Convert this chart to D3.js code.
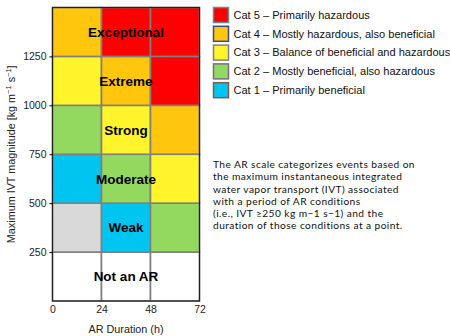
<!DOCTYPE html>
<html><head><meta charset="utf-8">
<script src="https://cdn.jsdelivr.net/npm/d3@7"></script>
<style>body{margin:0;background:#fff}svg{display:block}</style>
</head><body><svg id="c" width="450" height="336"></svg>
<script>
const xTicks = [0,24,48,72];
const yTicks = [250,500,750,1000,1250];
const ivtBands = [0,250,500,750,1000,1250];
const durationStarts = [0,24,48];
// category per IVT band (rows bottom->top), per duration column; 0 = not AR, -1 = grey
const row0 = [0,0,0];
const row250 = [-1,1,2];
const row500 = [1,2,3];
const row750 = [2,3,4];
const row1000 = [3,4,5];
const row1250 = [4,5,5];
const grid = [row0,row250,row500,row750,row1000,row1250];
const rankLabels = ["Not an AR","Weak","Moderate","Strong","Extreme","Exceptional"];
const catNames = ["Cat 5 \u2013 Primarily hazardous","Cat 4 \u2013 Mostly hazardous, also beneficial","Cat 3 \u2013 Balance of beneficial and hazardous","Cat 2 \u2013 Mostly beneficial, also hazardous","Cat 1 \u2013 Primarily beneficial"];
const catIds = [5,4,3,2,1];
const note = ["The AR scale categorizes events based on","the maximum instantaneous integrated","water vapor transport (IVT) associated","with a period of AR conditions","(i.e., IVT \u2265250 kg m\u22121 s\u22121) and the","duration of those conditions at a point."];

const fill = {"-1":"#d9d9d9",0:"#ffffff",1:"#00c5f0",2:"#94d95f",3:"#fff52a",4:"#ffc60e",5:"#ff0000"};
const swBorder = {5:"#5f8f8f",4:"#3c4a8a",3:"#7a7fa0",2:"#7a6a90",1:"#8a5a40"};
const FONT = "Liberation Sans, Arial, sans-serif";

const svg = d3.select("#c");
const x = d3.scaleLinear().domain([0,72]).range([52.5,199.5]);
const y = d3.scaleLinear().domain([0,1500]).range([301,7.5]);

const cells = [];
grid.forEach((row,i)=>row.forEach((c,j)=>cells.push({i,j,c})));
svg.append("g").selectAll("rect").data(cells).join("rect")
  .attr("x",d=>x(durationStarts[d.j])).attr("y",d=>y(ivtBands[d.i]+250))
  .attr("width",d=>x(durationStarts[d.j]+24)-x(durationStarts[d.j]))
  .attr("height",d=>y(ivtBands[d.i])-y(ivtBands[d.i]+250))
  .attr("fill",d=>fill[d.c]).attr("stroke","#7f7f7f").attr("stroke-width",1.6);

svg.append("rect").attr("x",x(0)).attr("y",y(1500)).attr("width",x(72)-x(0)).attr("height",y(0)-y(1500))
  .attr("fill","none").attr("stroke","#222").attr("stroke-width",1.2);

svg.append("g").selectAll("text").data(rankLabels).join("text")
  .attr("x",x(36)).attr("y",(d,i)=>y(ivtBands[i]+125)).attr("dy","0.36em")
  .attr("text-anchor","middle").attr("font-family",FONT)
  .attr("font-weight","bold").attr("font-size",13.5).attr("fill","#000").text(d=>d);

const ya = svg.append("g").attr("transform",`translate(${x(0)},0)`)
  .call(d3.axisLeft(y).tickValues(yTicks).tickFormat(d3.format("d")).tickSize(3).tickPadding(3));
ya.select(".domain").remove();
ya.selectAll("text").attr("font-family",FONT).attr("font-size",10.5).attr("fill","#222");
const xa = svg.append("g").attr("transform",`translate(0,${y(0)})`)
  .call(d3.axisBottom(x).tickValues(xTicks).tickSize(0).tickPadding(5));
xa.select(".domain").remove();
xa.selectAll("text").attr("font-family",FONT).attr("font-size",10.5).attr("fill","#222");

svg.append("text").attr("x",x(36)).attr("y",333).attr("text-anchor","middle")
  .attr("font-family",FONT).attr("font-size",10.8).attr("fill","#222").text("AR Duration (h)");

const yt = svg.append("text").attr("transform",`translate(15,${y(750)}) rotate(-90)`).attr("text-anchor","middle")
  .attr("font-family",FONT).attr("font-size",10.8).attr("fill","#222");
yt.append("tspan").text("Maximum IVT magnitude [kg m");
yt.append("tspan").attr("font-size",7.5).attr("dy",-4).text("\u22121");
yt.append("tspan").attr("dy",4).text(" s");
yt.append("tspan").attr("font-size",7.5).attr("dy",-4).text("\u22121");
yt.append("tspan").attr("dy",4).text("]");

const lg = svg.append("g").selectAll("g").data(catNames).join("g")
  .attr("transform",(d,i)=>`translate(213.5,${7.5+i*18.8})`);
lg.append("rect").attr("width",15).attr("height",15)
  .attr("fill",(d,i)=>fill[catIds[i]]).attr("stroke",(d,i)=>swBorder[catIds[i]]).attr("stroke-width",1.5);
lg.append("text").attr("x",20).attr("y",7.5).attr("dy","0.35em")
  .attr("font-family",FONT).attr("font-size",11.05).attr("fill","#111").text(d=>d);

svg.append("g").selectAll("text").data(note).join("text")
  .attr("x",213).attr("y",(d,i)=>168+i*12.25)
  .attr("font-family","Lato, Open Sans, sans-serif").attr("font-size",10.2).attr("letter-spacing",0.42)
  .attr("fill","#111").text(d=>d);
</script></body></html>
